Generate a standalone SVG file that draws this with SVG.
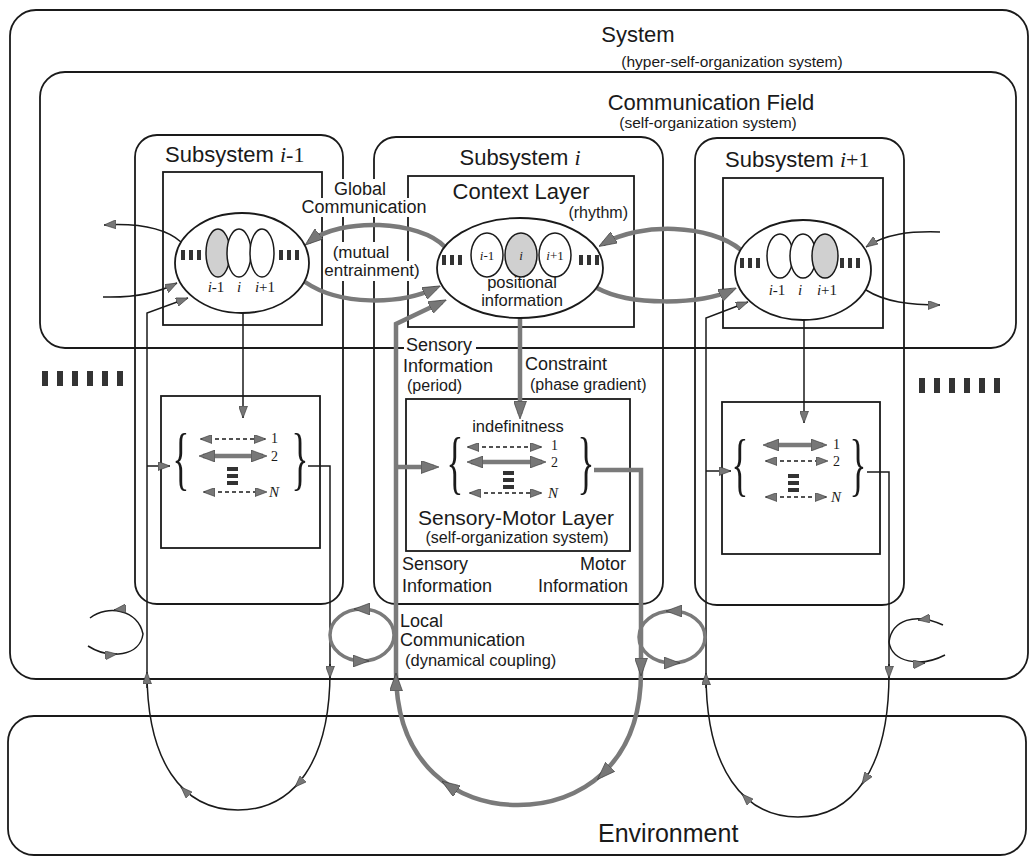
<svg xmlns="http://www.w3.org/2000/svg" width="1032" height="862" viewBox="0 0 1032 862">
<defs>
<style>
.box{fill:none;stroke:#1a1a1a;stroke-width:1.8}
.thin{fill:none;stroke:#1a1a1a;stroke-width:1.5}
.thick{fill:none;stroke:#7a7a7a;stroke-width:4.5}
.loop{fill:none;stroke:#7a7a7a;stroke-width:3.5}
.dash{fill:none;stroke:#1a1a1a;stroke-width:1.5;stroke-dasharray:4 3}
.bar{fill:#333}
.ell{fill:#fff;stroke:#1a1a1a;stroke-width:1.8}
.in{fill:#fff;stroke:#1a1a1a;stroke-width:1.5}
.sh{fill:#d0d0d0;stroke:#1a1a1a;stroke-width:1.5}
.s{font-family:"Liberation Sans",Arial,sans-serif;fill:#1a1a1a}
.r{font-family:"Liberation Serif","Times New Roman",serif;fill:#1a1a1a}
.it{font-style:italic}
.wb{fill:#fff}
</style>
<marker id="a" viewBox="0 0 12 9" refX="12" refY="4.5" markerWidth="12" markerHeight="9" markerUnits="userSpaceOnUse" orient="auto-start-reverse"><path d="M0,0 L12,4.5 L0,9 z" fill="#777" stroke="#333" stroke-width="0.6"/></marker>
<marker id="b" viewBox="0 0 18 13" refX="13" refY="6.5" markerWidth="18" markerHeight="13" markerUnits="userSpaceOnUse" orient="auto-start-reverse"><path d="M0,0 L18,6.5 L0,13 z" fill="#777" stroke="#333" stroke-width="0.6"/></marker>
<marker id="c" viewBox="0 0 12 9" refX="11" refY="4.5" markerWidth="12" markerHeight="9" markerUnits="userSpaceOnUse" orient="auto-start-reverse"><path d="M0,0 L12,4.5 L0,9 z" fill="#777" stroke="#333" stroke-width="0.6"/></marker>
<marker id="d" viewBox="0 0 16 12" refX="12" refY="6" markerWidth="16" markerHeight="12" markerUnits="userSpaceOnUse" orient="auto-start-reverse"><path d="M0,0 L16,6 L0,12 z" fill="#777" stroke="#333" stroke-width="0.6"/></marker>
</defs>
<rect width="1032" height="862" fill="#fff"/>

<g id="system">
<rect class="box" x="10" y="10" width="1018" height="669" rx="26"/>
<text class="s" x="638" y="42" font-size="22" text-anchor="middle">System</text>
<text class="s" x="732" y="67" font-size="15.5" text-anchor="middle">(hyper-self-organization system)</text>
</g>

<g id="environment">
<rect class="box" x="8" y="716" width="1018" height="139" rx="26"/>
<text class="s" x="598" y="842" font-size="25">Environment</text>
</g>

<g id="communication-field">
<rect class="box" x="40" y="72" width="976" height="276" rx="25"/>
<text class="s" x="711" y="110" font-size="22" text-anchor="middle">Communication Field</text>
<text class="s" x="708" y="128" font-size="15.5" text-anchor="middle">(self-organization system)</text>
<g class="bar">
<rect x="42" y="371" width="6" height="15"/><rect x="57" y="371" width="6" height="15"/><rect x="72" y="371" width="6" height="15"/><rect x="87" y="371" width="6" height="15"/><rect x="102" y="371" width="6" height="15"/><rect x="117" y="371" width="6" height="15"/>
<rect x="919" y="378" width="6" height="15"/><rect x="934" y="378" width="6" height="15"/><rect x="949" y="378" width="6" height="15"/><rect x="964" y="378" width="6" height="15"/><rect x="979" y="378" width="6" height="15"/><rect x="994" y="378" width="6" height="15"/>
</g>
</g>

<g id="subsystem-im1">
<rect class="box" x="135" y="135" width="208" height="469" rx="22"/>
<text class="s" x="165" y="162" font-size="22">Subsystem <tspan class="r it">i</tspan><tspan class="r">-1</tspan></text>
<rect class="box" x="163" y="172" width="159" height="153"/>
<rect class="box" x="161" y="396" width="159" height="152"/>
</g>

<g id="subsystem-i">
<rect class="box" x="374" y="137" width="289" height="467" rx="22"/>
<text class="s" x="520" y="165" font-size="22" text-anchor="middle">Subsystem <tspan class="r it">i</tspan></text>
<rect class="box" x="408" y="176" width="226" height="151"/>
<rect class="box" x="406" y="399" width="224" height="152"/>
</g>

<g id="subsystem-ip1">
<rect class="box" x="695" y="138" width="209" height="467" rx="22"/>
<text class="s" x="725" y="167" font-size="22">Subsystem <tspan class="r it">i</tspan><tspan class="r">+1</tspan></text>
<rect class="box" x="723" y="178" width="160" height="150"/>
<rect class="box" x="722" y="402" width="158" height="152"/>
</g>

<g id="labels">
<rect class="wb" x="332" y="179" width="56" height="19"/>
<rect class="wb" x="299" y="198" width="130" height="19"/>
<rect class="wb" x="329" y="242" width="64" height="19"/>
<rect class="wb" x="324" y="261" width="96" height="20"/>
<text class="s" x="360" y="195" font-size="18" text-anchor="middle">Global</text>
<text class="s" x="364" y="213" font-size="18" text-anchor="middle">Communication</text>
<text class="s" x="361" y="258" font-size="17" text-anchor="middle">(mutual</text>
<text class="s" x="372" y="276" font-size="17" text-anchor="middle">entrainment)</text>
<text class="s" x="521" y="199" font-size="22" text-anchor="middle">Context Layer</text>
<text class="s" x="628" y="218" font-size="16" text-anchor="end">(rhythm)</text>
<rect class="wb" x="404" y="336" width="72" height="20"/>
<text class="s" x="406" y="351" font-size="18">Sensory</text>
<text class="s" x="403" y="372" font-size="18">Information</text>
<text class="s" x="407" y="391" font-size="16">(period)</text>
<text class="s" x="525" y="370" font-size="18">Constraint</text>
<text class="s" x="530" y="390" font-size="16">(phase gradient)</text>
<text class="s" x="518" y="432" font-size="16.5" text-anchor="middle">indefinitness</text>
<text class="s" x="516" y="525" font-size="21" text-anchor="middle">Sensory-Motor Layer</text>
<text class="s" x="517" y="543" font-size="16" text-anchor="middle">(self-organization system)</text>
<text class="s" x="402" y="570" font-size="18">Sensory</text>
<text class="s" x="402" y="592" font-size="18">Information</text>
<text class="s" x="626" y="570" font-size="18" text-anchor="end">Motor</text>
<text class="s" x="628" y="592" font-size="18" text-anchor="end">Information</text>
<text class="s" x="400" y="627" font-size="18">Local</text>
<text class="s" x="400" y="646" font-size="18">Communication</text>
<text class="s" x="405" y="666" font-size="16.5">(dynamical coupling)</text>
</g>

<g id="connectors">
<path class="thick" d="M445,247 C420,220 340,217 309,242" marker-end="url(#b)"/>
<path class="thick" d="M305,282 C340,306 400,305 436,288" marker-end="url(#b)"/>
<path class="thick" d="M741,250 C710,224 640,222 603,244" marker-end="url(#b)"/>
<path class="thick" d="M597,288 C630,306 700,305 732,290" marker-end="url(#b)"/>
<path class="thin" d="M181,242 C165,228 140,223 104,225" marker-end="url(#a)"/>
<path class="thin" d="M103,297 C135,298 160,292 177,283" marker-end="url(#a)"/>
<path class="thin" d="M940,232 C910,231 885,234 866,247" marker-end="url(#a)"/>
<path class="thin" d="M866,290 C885,302 910,305 940,305" marker-end="url(#a)"/>
<path class="thin" d="M243,313 V418" marker-end="url(#a)"/>
<path class="thick" d="M520,318 V414" marker-end="url(#b)"/>
<path class="thin" d="M804,320 V423" marker-end="url(#a)"/>

<path class="thin" d="M308,466 H330 V672 C330,760 295,810 238,810 C181,810 147,760 147,672 V313 L188,298" marker-end="url(#a)"/>
<path class="thin" d="M147,466 H170" marker-end="url(#a)"/>
<path class="thin" d="M330,664 V678" marker-end="url(#a)"/>
<path class="thin" d="M147,688 V672" marker-end="url(#a)"/>
<path class="thin" d="M299,783 L295,787" marker-end="url(#a)"/>
<path class="thin" d="M185,791 L181,787" marker-end="url(#a)"/>

<path class="thick" d="M594,470 H641 V672 C641,765 580,805 518,805 C456,805 396,765 396,672 V324 L442,302" marker-end="url(#b)"/>
<path class="thick" d="M396,467 H434" marker-end="url(#b)"/>
<path class="thick" d="M641,660 V671" marker-end="url(#b)"/>
<path class="thick" d="M396,690 V678" marker-end="url(#b)"/>
<path class="thick" d="M452,788 L446,784" marker-end="url(#b)"/>
<path class="thick" d="M607,770 L601,776" marker-end="url(#b)"/>

<path class="thin" d="M867,472 H889 V674 C889,770 852,817 798,817 C744,817 706,770 706,674 V318 L748,302" marker-end="url(#a)"/>
<path class="thin" d="M706,471 H731" marker-end="url(#a)"/>
<path class="thin" d="M889,664 V678" marker-end="url(#a)"/>
<path class="thin" d="M706,688 V673" marker-end="url(#a)"/>
<path class="thin" d="M746,798 L742,794" marker-end="url(#a)"/>
<path class="thin" d="M866,778 L862,784" marker-end="url(#a)"/>

<ellipse class="loop" cx="362" cy="635" rx="32" ry="26"/>
<path class="loop" d="M366,609 L358,609" marker-end="url(#d)"/>
<path class="loop" d="M357,661 L365,661" marker-end="url(#d)"/>
<ellipse class="loop" cx="672" cy="637" rx="33" ry="26"/>
<path class="loop" d="M678,611 L670,611" marker-end="url(#d)"/>
<path class="loop" d="M668,663 L676,663" marker-end="url(#d)"/>

<path class="thin" d="M90,618 C108,604 138,610 143,634 C140,656 110,660 88,646"/>
<path class="thin" d="M122,609 L114,610" marker-end="url(#a)"/>
<path class="thin" d="M108,655 L117,654" marker-end="url(#a)"/>
<path class="thin" d="M943,625 C915,612 892,620 889,642 C892,662 920,668 945,655"/>
<path class="thin" d="M926,619 L918,620" marker-end="url(#a)"/>
<path class="thin" d="M916,664 L925,663" marker-end="url(#a)"/>
</g>

<g id="context-im1">
<ellipse class="ell" cx="242" cy="263" rx="67" ry="50"/>
<ellipse class="sh" cx="218" cy="253" rx="12" ry="24"/>
<ellipse class="in" cx="239" cy="253" rx="12" ry="24"/>
<ellipse class="in" cx="262" cy="253" rx="12" ry="24"/>
<g class="bar"><rect x="181" y="250" width="4" height="10"/><rect x="189" y="250" width="4" height="10"/><rect x="197" y="250" width="4" height="10"/><rect x="279" y="250" width="4" height="10"/><rect x="287" y="250" width="4" height="10"/><rect x="295" y="250" width="4" height="10"/></g>
<text class="r" font-size="15" y="292" text-anchor="middle"><tspan x="216"><tspan class="it">i</tspan>-1</tspan><tspan x="239" class="it">i</tspan><tspan x="265"><tspan class="it">i</tspan>+1</tspan></text>
</g>

<g id="context-i">
<ellipse class="ell" cx="520" cy="268" rx="83" ry="50"/>
<ellipse class="in" cx="487" cy="255" rx="16" ry="22"/>
<ellipse class="sh" cx="521" cy="255" rx="16" ry="22"/>
<ellipse class="in" cx="555" cy="255" rx="16" ry="22"/>
<g class="bar"><rect x="442" y="255" width="4" height="10"/><rect x="450" y="255" width="4" height="10"/><rect x="458" y="255" width="4" height="10"/><rect x="579" y="255" width="4" height="10"/><rect x="587" y="255" width="4" height="10"/><rect x="595" y="255" width="4" height="10"/></g>
<text class="r" font-size="13" y="260" text-anchor="middle"><tspan x="487"><tspan class="it">i</tspan>-1</tspan><tspan x="521" class="it">i</tspan><tspan x="555"><tspan class="it">i</tspan>+1</tspan></text>
<text class="s" x="522" y="288" font-size="16.5" text-anchor="middle">positional</text>
<text class="s" x="522" y="306" font-size="16.5" text-anchor="middle">information</text>
</g>

<g id="context-ip1">
<ellipse class="ell" cx="803" cy="270" rx="68" ry="50"/>
<ellipse class="in" cx="780" cy="256" rx="13" ry="22"/>
<ellipse class="in" cx="803" cy="256" rx="13" ry="22"/>
<ellipse class="sh" cx="825" cy="256" rx="13" ry="22"/>
<g class="bar"><rect x="740" y="258" width="4" height="10"/><rect x="748" y="258" width="4" height="10"/><rect x="756" y="258" width="4" height="10"/><rect x="840" y="258" width="4" height="10"/><rect x="848" y="258" width="4" height="10"/><rect x="856" y="258" width="4" height="10"/></g>
<text class="r" font-size="15" y="295" text-anchor="middle"><tspan x="777"><tspan class="it">i</tspan>-1</tspan><tspan x="800" class="it">i</tspan><tspan x="827"><tspan class="it">i</tspan>+1</tspan></text>
</g>

<g id="sm-im1">
<text class="r" font-size="70" text-anchor="middle" transform="translate(181,482) scale(0.5,1)">{</text>
<text class="r" font-size="70" text-anchor="middle" transform="translate(300,482) scale(0.5,1)">}</text>
<path class="dash" d="M201,439 H265" marker-start="url(#c)" marker-end="url(#c)"/>
<path class="thick" d="M203,456 H263" marker-start="url(#d)" marker-end="url(#d)"/>
<path class="dash" d="M204,492 H266" marker-start="url(#c)" marker-end="url(#c)"/>
<g class="bar"><rect x="227" y="467" width="11" height="4"/><rect x="227" y="474" width="11" height="4"/><rect x="227" y="481" width="11" height="4"/></g>
<text class="r" font-size="14" x="271" y="443">1</text>
<text class="r" font-size="14" x="271" y="461">2</text>
<text class="r it" font-size="15" x="269" y="497">N</text>
</g>

<g id="sm-i">
<text class="r" font-size="70" text-anchor="middle" transform="translate(455,486) scale(0.5,1)">{</text>
<text class="r" font-size="70" text-anchor="middle" transform="translate(586,486) scale(0.5,1)">}</text>
<path class="dash" d="M468,447 H541" marker-start="url(#c)" marker-end="url(#c)"/>
<path class="thick" d="M471,462 H542" marker-start="url(#d)" marker-end="url(#d)"/>
<path class="dash" d="M470,493 H541" marker-start="url(#c)" marker-end="url(#c)"/>
<g class="bar"><rect x="503" y="471" width="11" height="4"/><rect x="503" y="478" width="11" height="4"/><rect x="503" y="485" width="11" height="4"/></g>
<text class="r" font-size="14" x="551" y="450">1</text>
<text class="r" font-size="14" x="551" y="467">2</text>
<text class="r it" font-size="15" x="548" y="498">N</text>
</g>

<g id="sm-ip1">
<text class="r" font-size="70" text-anchor="middle" transform="translate(740,488) scale(0.5,1)">{</text>
<text class="r" font-size="70" text-anchor="middle" transform="translate(858,488) scale(0.5,1)">}</text>
<path class="thick" d="M767,445 H823" marker-start="url(#d)" marker-end="url(#d)"/>
<path class="dash" d="M766,461 H827" marker-start="url(#c)" marker-end="url(#c)"/>
<path class="dash" d="M766,497 H826" marker-start="url(#c)" marker-end="url(#c)"/>
<g class="bar"><rect x="788" y="474" width="11" height="4"/><rect x="788" y="481" width="11" height="4"/><rect x="788" y="488" width="11" height="4"/></g>
<text class="r" font-size="14" x="833" y="449">1</text>
<text class="r" font-size="14" x="833" y="466">2</text>
<text class="r it" font-size="15" x="831" y="502">N</text>
</g>
</svg>
